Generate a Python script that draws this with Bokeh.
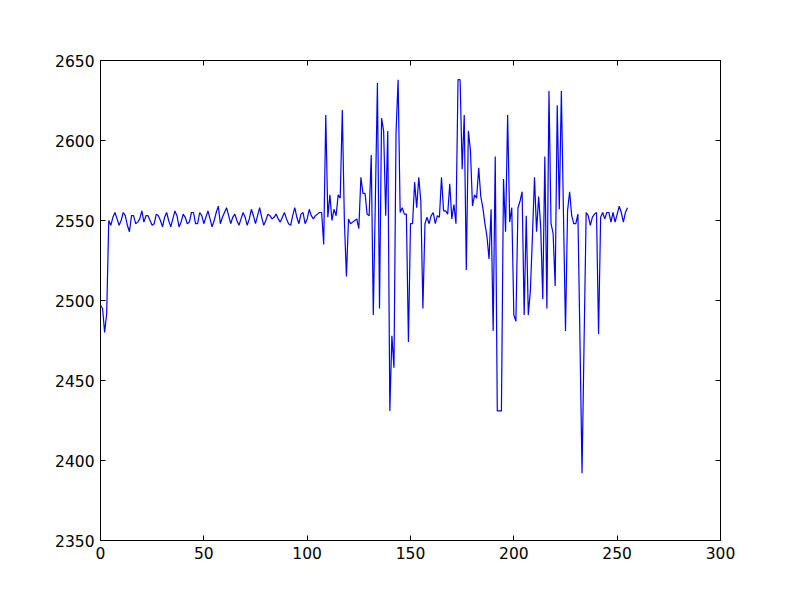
from bokeh.plotting import figure
from bokeh.models import LinearAxis, FixedTicker, Range1d
from bokeh.embed import file_html
from bokeh.resources import INLINE

# --- data ---
values_0_49 = [2497, 2495, 2480, 2492, 2550, 2547, 2552, 2555, 2551, 2547,
               2550, 2555, 2553, 2547, 2543, 2553, 2553, 2548, 2549, 2551,
               2556, 2549, 2553, 2553, 2550, 2547, 2548, 2554, 2553, 2550,
               2546, 2552, 2555, 2550, 2546, 2551, 2556, 2553, 2546, 2549,
               2554, 2552, 2548, 2549, 2555, 2555, 2548, 2548, 2555, 2553]
values_50_99 = [2548, 2552, 2556, 2551, 2546, 2550, 2555, 2559, 2548, 2552,
                2555, 2558, 2553, 2548, 2552, 2554, 2550, 2547, 2551, 2555,
                2552, 2547, 2551, 2557, 2553, 2548, 2553, 2558, 2552, 2547,
                2550, 2554, 2553, 2551, 2552, 2554, 2551, 2549, 2552, 2555,
                2551, 2548, 2547, 2553, 2558, 2552, 2548, 2554, 2555, 2548]
values_100_149 = [2551, 2557, 2553, 2551, 2553, 2554, 2555, 2555, 2535, 2616,
                  2552, 2566, 2550, 2557, 2553, 2566, 2564, 2619, 2550, 2515,
                  2551, 2548, 2549, 2550, 2551, 2545, 2577, 2567, 2567, 2554,
                  2553, 2591, 2491, 2563, 2636, 2495, 2614, 2606, 2553, 2606,
                  2431, 2478, 2458, 2605, 2638, 2555, 2558, 2554, 2554, 2474]
values_150_199 = [2548, 2548, 2574, 2558, 2577, 2562, 2495, 2548, 2552, 2548,
                  2553, 2555, 2548, 2553, 2552, 2577, 2556, 2556, 2554, 2573,
                  2551, 2560, 2548, 2638, 2638, 2582, 2616, 2519, 2606, 2594,
                  2559, 2566, 2564, 2583, 2565, 2558, 2548, 2540, 2526, 2557,
                  2481, 2590, 2431, 2431, 2431, 2576, 2543, 2616, 2549, 2558]
values_200_255 = [2491, 2487, 2558, 2562, 2568, 2491, 2553, 2491, 2506, 2540,
                  2577, 2543, 2565, 2546, 2501, 2590, 2495, 2631, 2548, 2542,
                  2509, 2622, 2557, 2631, 2555, 2481, 2556, 2568, 2553, 2548,
                  2548, 2554, 2475, 2392, 2475, 2555, 2553, 2547, 2552, 2554,
                  2555, 2479, 2552, 2555, 2551, 2555, 2555, 2549, 2555, 2549,
                  2554, 2559, 2555, 2549, 2555, 2558]
values = values_0_49 + values_50_99 + values_100_149 + values_150_199 + values_200_255
samples = list(range(len(values)))

x_ticks = [0, 50, 100, 150, 200, 250, 300]
y_ticks = [2350, 2400, 2450, 2500, 2550, 2600, 2650]

FONT = "DejaVu Sans"
FS = "15.5px"

p = figure(frame_width=620, frame_height=480,
           min_border_left=100, min_border_right=80,
           min_border_top=60, min_border_bottom=60,
           x_range=Range1d(0, 300), y_range=Range1d(2350, 2650),
           output_backend="svg", toolbar_location=None,
           background_fill_color="white", border_fill_color="white")

p.line(samples, values, line_color="#0000ff", line_width=1.2)

p.grid.visible = False
p.outline_line_color = "black"
p.outline_line_width = 1

def style_axis(ax, ticks, labels=True):
    ax.ticker = FixedTicker(ticks=ticks)
    ax.major_tick_in = 5
    ax.major_tick_out = 0
    ax.minor_tick_in = 0
    ax.minor_tick_out = 0
    ax.axis_line_color = "black"
    ax.major_tick_line_color = "black"
    ax.major_label_text_font = FONT
    ax.major_label_text_font_size = FS
    ax.major_label_text_color = "black"
    ax.major_label_standoff = 6
    if not labels:
        ax.major_label_text_font_size = "0px"
        ax.major_label_text_alpha = 0

style_axis(p.xaxis[0], x_ticks)
style_axis(p.yaxis[0], y_ticks)

top = LinearAxis()
style_axis(top, x_ticks, labels=False)
p.add_layout(top, "above")
right = LinearAxis()
style_axis(right, y_ticks, labels=False)
p.add_layout(right, "right")

open("out.html", "w").write(file_html(p, INLINE))
